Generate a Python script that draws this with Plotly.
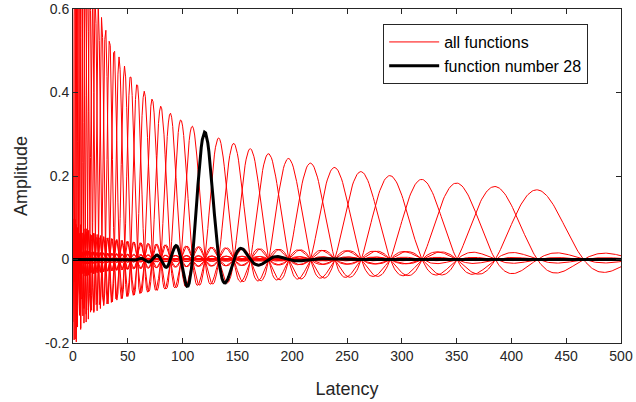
import numpy as np
import plotly.graph_objects as go

# ---- values ----
n_functions = 41            # number of basis functions drawn
highlighted = 28            # function drawn in black
peak_latency_hl = 120.4     # latency of the highlighted function's main peak
peak_amplitude_hl = 0.305   # amplitude of that peak
peak_ratio = 1.0973         # ratio between consecutive (latency + offset) peak positions
warp_offset = 9.0           # latency offset of the logarithmic warp
lobe_decay = 3.3            # width (in function spacings) of the side-lobe taper
latency = np.arange(0, 501, 1.0)

x_ticks = [0, 50, 100, 150, 200, 250, 300, 350, 400, 450, 500]
y_ticks = [-0.2, 0, 0.2, 0.4, 0.6]
y_tick_labels = ["-0.2", "0", "0.2", "0.4", "0.6"]

# ---- log-warped, tapered sinc functions ----
ref = peak_latency_hl + warp_offset
warp = np.log((latency + warp_offset) / ref) / np.log(peak_ratio)
envelope = peak_amplitude_hl * np.sqrt(ref / (latency + warp_offset))

def basis(k):
    u = warp - (k - highlighted)
    return envelope * np.sinc(u) * np.exp(-u ** 2 / (2 * lobe_decay ** 2))

fig = go.Figure()
for k in range(1, n_functions + 1):
    fig.add_trace(go.Scatter(
        x=latency, y=basis(k), mode="lines",
        line=dict(color="#ff0000", width=1),
        name="all functions", legendgroup="all",
        showlegend=(k == 1), hoverinfo="skip"))

fig.add_trace(go.Scatter(
    x=latency, y=basis(highlighted), mode="lines",
    line=dict(color="#000000", width=3),
    name="function number %d" % highlighted, legendgroup="hl"))

axis_col = "#262626"
font_fam = "Liberation Sans, Arial"
common = dict(showline=True, linecolor=axis_col, linewidth=1, mirror="ticks",
              ticks="inside", ticklen=5, tickcolor=axis_col, showgrid=False,
              zeroline=False, automargin=False,
              tickfont=dict(size=14, color=axis_col, family=font_fam))
fig.update_xaxes(range=[0, 500], tickvals=x_ticks, **common,
                 title=dict(text="Latency", standoff=19,
                            font=dict(size=18, color=axis_col, family=font_fam)))
fig.update_yaxes(range=[-0.2, 0.6], tickvals=y_ticks, ticktext=y_tick_labels, **common,
                 title=dict(text="Amplitude", standoff=12,
                            font=dict(size=18, color=axis_col, family=font_fam)))

fig.update_layout(
    width=636, height=402,
    margin=dict(l=73, r=15, t=9, b=59),
    paper_bgcolor="white", plot_bgcolor="white",
    showlegend=True,
    legend=dict(x=0.566, y=0.955, xanchor="left", yanchor="top",
                bgcolor="white", bordercolor=axis_col, borderwidth=1,
                tracegroupgap=0, itemwidth=50,
                font=dict(size=16, color="#000000", family=font_fam)),
)

fig.write_html("out.html", config={"displayModeBar": False},
               post_script="document.body.style.margin='0';")
